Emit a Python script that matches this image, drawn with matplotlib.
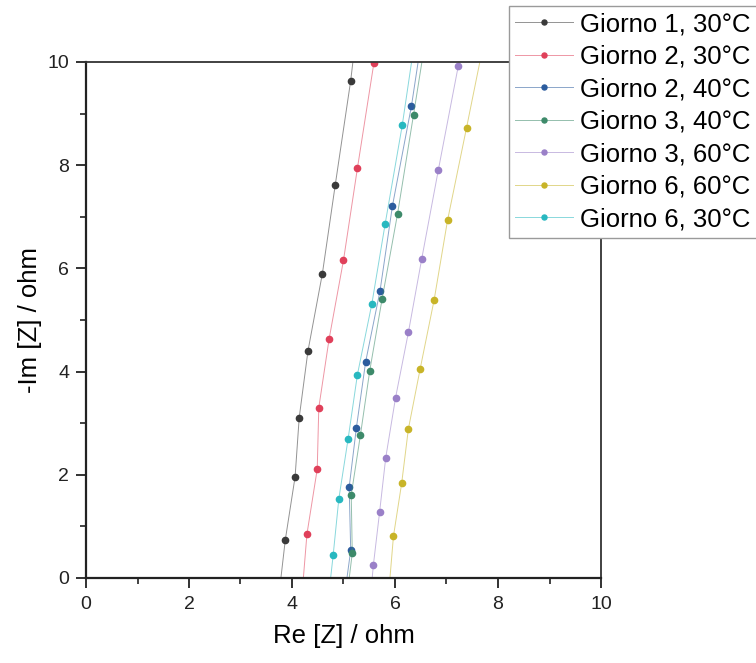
import matplotlib
matplotlib.use("Agg")
import matplotlib.pyplot as plt
from matplotlib.colors import to_rgba

plt.rcParams['font.family'] = ['Liberation Sans', 'DejaVu Sans']

# Nyquist data, Re [Z] and -Im [Z] in ohm (first/last points lie outside the 0-10 window)
g1_30_re = [3.75, 3.87, 4.06, 4.14, 4.31, 4.59, 4.84, 5.14, 5.30]
g1_30_im = [-0.30, 0.74, 1.96, 3.11, 4.40, 5.90, 7.62, 9.64, 11.00]

g2_30_re = [4.18, 4.29, 4.49, 4.52, 4.72, 5.00, 5.27, 5.59, 5.85]
g2_30_im = [-0.50, 0.85, 2.11, 3.30, 4.63, 6.16, 7.94, 9.98, 11.20]

g2_40_re = [5.00, 5.14, 5.11, 5.25, 5.43, 5.71, 5.95, 6.32, 6.57]
g2_40_im = [-0.50, 0.54, 1.76, 2.91, 4.19, 5.57, 7.21, 9.15, 10.80]

g3_40_re = [5.05, 5.17, 5.15, 5.33, 5.51, 5.75, 6.05, 6.36, 6.65]
g3_40_im = [-0.50, 0.48, 1.61, 2.78, 4.02, 5.41, 7.06, 8.98, 10.80]

g3_60_re = [5.52, 5.58, 5.70, 5.82, 6.01, 6.26, 6.52, 6.84, 7.23, 7.45]
g3_60_im = [-0.40, 0.25, 1.27, 2.33, 3.49, 4.76, 6.19, 7.90, 9.93, 11.20]

g6_60_re = [5.86, 5.97, 6.13, 6.26, 6.49, 6.76, 7.02, 7.39, 7.87]
g6_60_im = [-0.50, 0.81, 1.84, 2.89, 4.06, 5.39, 6.93, 8.73, 11.10]

g6_30_re = [4.70, 4.80, 4.91, 5.09, 5.27, 5.55, 5.81, 6.14, 6.44]
g6_30_im = [-0.45, 0.45, 1.54, 2.70, 3.94, 5.31, 6.87, 8.77, 10.80]

series = [
    ("Giorno 1, 30°C", g1_30_re, g1_30_im, "#3a3a3a"),
    ("Giorno 2, 30°C", g2_30_re, g2_30_im, "#e0405a"),
    ("Giorno 2, 40°C", g2_40_re, g2_40_im, "#2c5c9e"),
    ("Giorno 3, 40°C", g3_40_re, g3_40_im, "#3d8a6a"),
    ("Giorno 3, 60°C", g3_60_re, g3_60_im, "#9a80c8"),
    ("Giorno 6, 60°C", g6_60_re, g6_60_im, "#c8b428"),
    ("Giorno 6, 30°C", g6_30_re, g6_30_im, "#28b8c0"),
]

fig = plt.figure(figsize=(7.56, 6.63), dpi=100)
ax = fig.add_axes([86 / 756, 1 - 578 / 663, 515 / 756, 516 / 663])

for label, re, im, col in series:
    ax.plot(re, im, '-o', color=to_rgba(col, 0.55), lw=0.7,
            markersize=4.5, markerfacecolor=col, markeredgecolor=col,
            label=label)

ax.set_xlim(0, 10)
ax.set_ylim(0, 10)
ax.set_xticks([0, 2, 4, 6, 8, 10])
ax.set_yticks([0, 2, 4, 6, 8, 10])
ax.set_xticks([1, 3, 5, 7, 9], minor=True)
ax.set_yticks([1, 3, 5, 7, 9], minor=True)
ax.tick_params(which='major', direction='out', length=7, width=1.3,
               labelsize=14, colors='#222222')
ax.tick_params(axis='x', which='major', pad=6)
ax.tick_params(axis='y', which='major', pad=5)
ax.tick_params(which='minor', direction='out', length=4, width=1.2,
               colors='#222222')
for side in ['left', 'bottom']:
    ax.spines[side].set_linewidth(1.6)
    ax.spines[side].set_color('#222222')
for side in ['top', 'right']:
    ax.spines[side].set_linewidth(1.3)
    ax.spines[side].set_color('#333333')

ax.set_xlabel("Re [Z] / ohm", fontsize=18.5, labelpad=8)
ax.set_ylabel("-Im [Z] / ohm", fontsize=18.5, labelpad=4)

leg = ax.legend(loc='upper left', bbox_to_anchor=(509 / 756, 1 - 6 / 663),
                bbox_transform=fig.transFigure, fontsize=18.5, frameon=True,
                fancybox=False, handlelength=2.25, handletextpad=0.27,
                labelspacing=0.33, borderpad=0.25, borderaxespad=0,
                markerscale=0.8)
leg.get_frame().set_edgecolor('#9a9a9a')
leg.get_frame().set_linewidth(1.0)
leg.get_frame().set_alpha(1.0)

fig.savefig("out.png", dpi=100)
